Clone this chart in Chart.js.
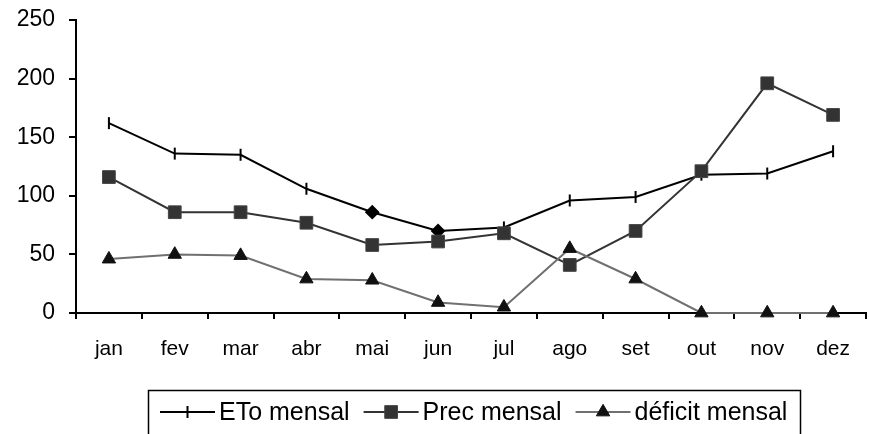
<!DOCTYPE html>
<html>
<head>
<meta charset="utf-8">
<script src="https://cdn.jsdelivr.net/npm/chart.js@4/dist/chart.umd.min.js"></script>
<style>
  html, body { margin: 0; padding: 0; background: #fff; overflow: hidden; }
  #wrap { width: 876px; height: 434px; }
</style>
</head>
<body>
<div id="wrap"><canvas id="c" width="876" height="434"></canvas></div>
<script>
// Monthly water balance: reference evapotranspiration, rainfall and deficit (mm)
const months = ['jan', 'fev', 'mar', 'abr', 'mai', 'jun', 'jul', 'ago', 'set', 'out', 'nov', 'dez'];
const etoMensal = [162, 136, 135, 106, 86, 70, 73, 96, 99, 118, 119, 138];
const precMensal = [116, 86, 86, 77, 58, 61, 68, 41, 70, 121, 196, 169];
const deficitMensal = [46, 50, 49, 29, 28, 9, 5, 55, 29, 0, 0, 0];
const seriesNames = ['ETo mensal', 'Prec mensal', 'déficit mensal'];
const yTicks = [0, 50, 100, 150, 200, 250];

const FONT = '"Liberation Sans", Arial, Helvetica, sans-serif';

// ETo markers: vertical dashes, with diamonds in May and June
const etoStyles = ['line', 'line', 'line', 'line', 'rectRot', 'rectRot', 'line', 'line', 'line', 'line', 'line', 'line'];
const etoRotation = etoStyles.map(s => (s === 'line' ? 90 : 0));

// Boxed legend under the x axis: line sample with marker, then the series name
const boxedLegend = {
  id: 'boxedLegend',
  afterDraw(chart) {
    const ctx = chart.ctx;
    ctx.save();
    ctx.lineWidth = 1.5;
    ctx.strokeStyle = '#000';
    ctx.strokeRect(148.5, 390.5, 652, 60);

    ctx.font = '25px ' + FONT;
    ctx.textBaseline = 'middle';
    ctx.textAlign = 'left';
    const y = 412;
    const sampleLen = 55;
    let x = 160;
    chart.data.datasets.forEach(ds => {
      ctx.strokeStyle = ds.borderColor;
      ctx.lineWidth = ds.borderWidth;
      ctx.beginPath();
      ctx.moveTo(x, y);
      ctx.lineTo(x + sampleLen, y);
      ctx.stroke();

      ctx.fillStyle = ds.pointBackgroundColor;
      ctx.strokeStyle = ds.pointBorderColor;
      ctx.lineWidth = ds.pointBorderWidth;
      Chart.helpers.drawPoint(ctx, {
        pointStyle: ds.legendPointStyle,
        rotation: ds.legendPointRotation,
        radius: ds.pointRadius,
        borderWidth: ds.pointBorderWidth
      }, x + sampleLen / 2, y);

      ctx.fillStyle = '#000';
      const tx = x + sampleLen + 4;
      ctx.fillText(ds.label, tx, y + 1);
      x = tx + ctx.measureText(ds.label).width + 14;
    });
    ctx.restore();
  }
};

new Chart(document.getElementById('c'), {
  type: 'line',
  data: {
    labels: months,
    datasets: [
      {
        label: seriesNames[0],
        data: etoMensal,
        borderColor: '#000',
        borderWidth: 2,
        pointStyle: etoStyles,
        pointRotation: etoRotation,
        pointRadius: 6,
        pointBackgroundColor: '#000',
        pointBorderColor: '#000',
        pointBorderWidth: 2,
        legendPointStyle: 'line',
        legendPointRotation: 90,
        tension: 0,
        clip: false,
        order: 3
      },
      {
        label: seriesNames[1],
        data: precMensal,
        borderColor: '#333',
        borderWidth: 2,
        pointStyle: 'rect',
        pointRadius: 9,
        pointBackgroundColor: '#333',
        pointBorderColor: '#444',
        pointBorderWidth: 1,
        legendPointStyle: 'rect',
        legendPointRotation: 0,
        tension: 0,
        clip: false,
        order: 2
      },
      {
        label: seriesNames[2],
        data: deficitMensal,
        borderColor: '#707070',
        borderWidth: 2,
        pointStyle: 'triangle',
        pointRadius: 7.7,
        pointBackgroundColor: '#111',
        pointBorderColor: '#111',
        pointBorderWidth: 1,
        legendPointStyle: 'triangle',
        legendPointRotation: 0,
        tension: 0,
        clip: false,
        order: 1
      }
    ]
  },
  options: {
    responsive: false,
    animation: false,
    events: [],
    layout: { padding: { top: 20, left: 0, right: 1, bottom: 71 } },
    plugins: {
      legend: { display: false },
      tooltip: { enabled: false }
    },
    scales: {
      x: {
        type: 'category',
        offset: true,
        grid: {
          offset: true,
          drawOnChartArea: false,
          drawTicks: true,
          tickLength: 6,
          color: '#000',
          lineWidth: 2
        },
        border: { display: true, color: '#000', width: 2 },
        ticks: {
          color: '#000',
          font: { family: FONT, size: 21 },
          padding: 18,
          maxRotation: 0,
          autoSkip: false
        },
        afterFit(s) { s.height = 50; s.paddingLeft = 0; s.paddingRight = 0; }
      },
      y: {
        min: 0,
        max: 250,
        afterBuildTicks(s) { s.ticks = yTicks.map(v => ({ value: v })); },
        grid: {
          drawOnChartArea: false,
          drawTicks: true,
          tickLength: 7,
          color: '#000',
          lineWidth: 2
        },
        border: { display: true, color: '#000', width: 2 },
        ticks: {
          color: '#000',
          font: { family: FONT, size: 23 },
          padding: 14
        },
        afterFit(s) { s.width = 76; s.paddingTop = 0; s.paddingBottom = 0; }
      }
    }
  },
  plugins: [boxedLegend]
});
</script>
</body>
</html>
